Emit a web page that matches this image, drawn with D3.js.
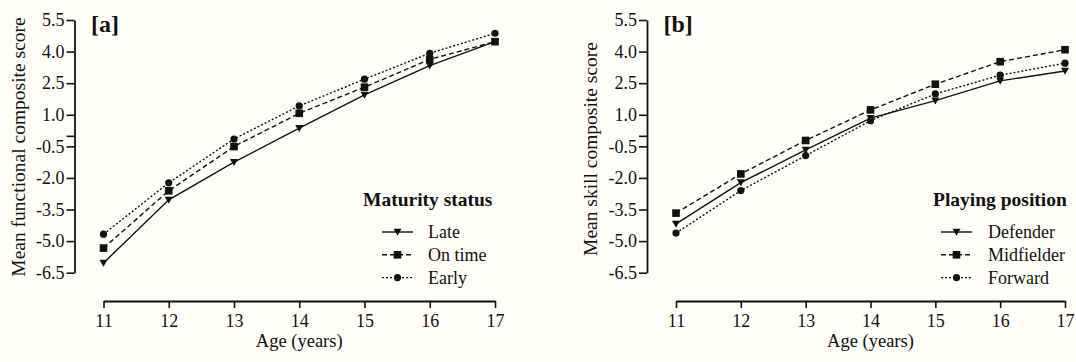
<!DOCTYPE html>
<html>
<head>
<meta charset="utf-8">
<script src="https://cdn.jsdelivr.net/npm/d3@7"></script>
<style>
  html, body { margin: 0; padding: 0; background: #fffff8; }
  svg { display: block; }
  text { font-family: "Liberation Serif", "Times New Roman", serif; fill: #111; }
</style>
</head>
<body>
<svg id="chart" width="1076" height="362"></svg>
<script>
// Ages on the x axis
const ages = [11, 12, 13, 14, 15, 16, 17];

// Y axis ticks (labelled); a bare tick also marks zero
const yTicks = [5.5, 4.0, 2.5, 1.0, -0.5, -2.0, -3.5, -5.0, -6.5];

// Panel [a]: functional composite score by maturity status
const lateScores   = [-6.04, -3.04, -1.25, 0.36, 1.94, 3.33, 4.47];
const onTimeScores = [-5.33, -2.61, -0.51, 1.07, 2.31, 3.63, 4.47];
const earlyScores  = [-4.67, -2.23, -0.15, 1.42, 2.69, 3.92, 4.87];

// Panel [b]: skill composite score by playing position
const defenderScores   = [-4.18, -2.22, -0.67, 0.84, 1.67, 2.61, 3.08];
const midfielderScores = [-3.67, -1.81, -0.22, 1.23, 2.45, 3.52, 4.09];
const forwardScores    = [-4.62, -2.60, -0.94, 0.72, 1.99, 2.88, 3.45];

const panels = [
  {
    tag: "[a]",
    yTitle: "Mean functional composite score",
    legendTitle: "Maturity status",
    yAxisX: 74.5, xStart: 103.5, xEnd: 495,
    yTitleX: 19, yTitleY: 147,
    legendTitleX: 363, legendLineX: 382, legendTextX: 428,
    series: [
      { name: "Late",    values: lateScores,   dash: null,  marker: "tri" },
      { name: "On time", values: onTimeScores, dash: "5,3", marker: "sq" },
      { name: "Early",   values: earlyScores,  dash: "2,2", marker: "dot" }
    ]
  },
  {
    tag: "[b]",
    yTitle: "Mean skill composite score",
    legendTitle: "Playing position",
    yAxisX: 647, xStart: 676, xEnd: 1065,
    yTitleX: 591, yTitleY: 149,
    legendTitleX: 933, legendLineX: 941, legendTextX: 988,
    series: [
      { name: "Defender",   values: defenderScores,   dash: null,  marker: "tri" },
      { name: "Midfielder", values: midfielderScores, dash: "5,3", marker: "sq" },
      { name: "Forward",    values: forwardScores,    dash: "2,2", marker: "dot" }
    ]
  }
];

const svg = d3.select("#chart");
const yTop = 20, yBottom = 272.7, xAxisY = 301;
const fmt = d => d.toFixed(1);

function drawMarker(g, type, cx, cy) {
  if (type === "tri") {
    g.append("path")
      .attr("d", `M${cx - 4},${cy - 3.2} L${cx + 4},${cy - 3.2} L${cx},${cy + 3.8} Z`)
      .attr("fill", "#111");
  } else if (type === "sq") {
    g.append("rect")
      .attr("x", cx - 3.8).attr("y", cy - 3.8)
      .attr("width", 7.6).attr("height", 7.6)
      .attr("fill", "#111");
  } else {
    g.append("circle").attr("cx", cx).attr("cy", cy).attr("r", 3.6).attr("fill", "#111");
  }
}

panels.forEach(p => {
  const g = svg.append("g");
  const x = d3.scaleLinear().domain([11, 17]).range([p.xStart, p.xEnd]);
  const y = d3.scaleLinear().domain([-6.5, 5.5]).range([yBottom, yTop]);

  // Y axis
  const yAxis = g.append("g")
    .attr("transform", `translate(${p.yAxisX},0)`)
    .call(d3.axisLeft(y).tickValues(yTicks.concat([0]))
      .tickFormat(d => d === 0 ? "" : fmt(d))
      .tickSizeOuter(0).tickSizeInner(8).tickPadding(2));
  yAxis.select(".domain").attr("stroke", "#111").attr("stroke-width", 1.8);
  yAxis.selectAll(".tick line").attr("stroke", "#111").attr("stroke-width", 1.6);
  yAxis.selectAll(".tick text")
    .style("font-family", "'Liberation Serif', serif")
    .style("font-size", "18px").attr("fill", "#111");

  // X axis
  const xAxis = g.append("g")
    .attr("transform", `translate(0,${xAxisY})`)
    .call(d3.axisBottom(x).tickValues(ages).tickFormat(d3.format("d"))
      .tickSizeOuter(0).tickSizeInner(7).tickPadding(6));
  xAxis.select(".domain").attr("stroke", "#111").attr("stroke-width", 1.8);
  xAxis.selectAll(".tick line").attr("stroke", "#111").attr("stroke-width", 1.6);
  xAxis.selectAll(".tick text")
    .style("font-family", "'Liberation Serif', serif")
    .style("font-size", "18px").attr("fill", "#111");

  // Axis titles
  g.append("text")
    .attr("x", (p.xStart + p.xEnd) / 2).attr("y", 347)
    .attr("text-anchor", "middle").style("font-size", "18.5px")
    .text("Age (years)");
  g.append("text")
    .attr("transform", `translate(${p.yTitleX + 6},${p.yTitleY}) rotate(-90)`)
    .attr("text-anchor", "middle").style("font-size", "19.5px")
    .text(p.yTitle);

  // Panel tag
  g.append("text")
    .attr("x", p.yAxisX + 16.5).attr("y", 32)
    .style("font-size", "24px").style("font-weight", "bold")
    .text(p.tag);

  // Series lines and markers
  const line = d3.line().x((d, i) => x(ages[i])).y(d => y(d));
  p.series.forEach(s => {
    g.append("path")
      .attr("d", line(s.values))
      .attr("fill", "none").attr("stroke", "#111").attr("stroke-width", 1.4)
      .attr("stroke-dasharray", s.dash);
    s.values.forEach((v, i) => drawMarker(g, s.marker, x(ages[i]), y(v)));
  });

  // Legend
  g.append("text")
    .attr("x", p.legendTitleX).attr("y", 206)
    .style("font-size", "19.5px").style("font-weight", "bold")
    .text(p.legendTitle);
  p.series.forEach((s, i) => {
    const ly = 232 + i * 22.8;
    g.append("line")
      .attr("x1", p.legendLineX).attr("x2", p.legendLineX + 31)
      .attr("y1", ly).attr("y2", ly)
      .attr("stroke", "#111").attr("stroke-width", 1.4)
      .attr("stroke-dasharray", s.dash);
    drawMarker(g, s.marker, p.legendLineX + 15.5, ly);
    g.append("text")
      .attr("x", p.legendTextX).attr("y", ly + 6)
      .style("font-size", "18px")
      .text(s.name);
  });
});
</script>
</body>
</html>
